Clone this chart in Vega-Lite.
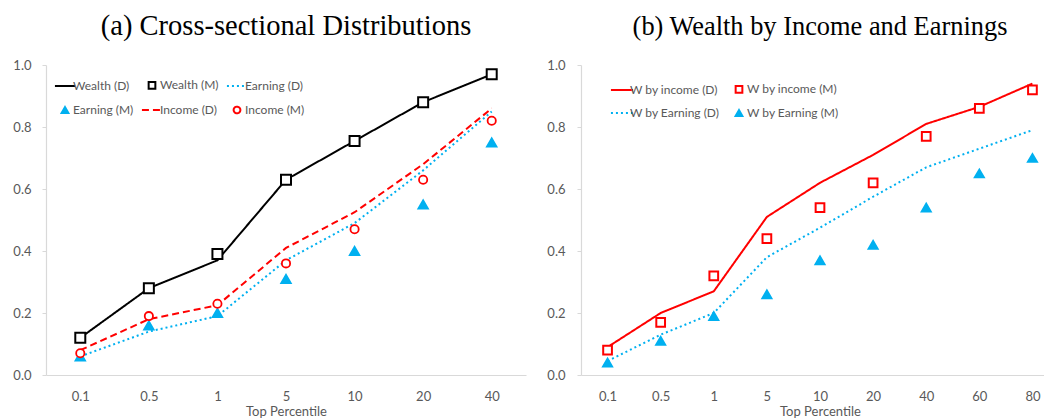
{
  "$schema": "https://vega.github.io/schema/vega-lite/v6.json",
  "padding": {"left": 12, "top": 11, "right": 0, "bottom": 0},
  "config": {
    "view": {"stroke": null},
    "font": "Lato",
    "axis": {"labelFont": "Lato", "labelFontSize": 13, "labelColor": "#595959", "titleFont": "Lato", "titleFontSize": 13, "titleColor": "#595959", "titleFontWeight": "normal", "domainColor": "#d9d9d9", "domainWidth": 1.2, "tickColor": "#d9d9d9", "grid": false},
    "axisX": {"ticks": false, "labelPadding": 15, "titlePadding": 2, "labelAngle": 0},
    "axisY": {"tickSize": 4, "labelPadding": 11},
    "legend": {"labelFont": "Lato", "labelFontSize": 12, "labelColor": "#595959", "symbolStrokeWidth": 2, "symbolSize": 45, "labelOffset": 2, "rowPadding": 9, "columnPadding": 3, "padding": 0},
    "title": {"font": "Liberation Serif", "fontSize": 28.5, "fontWeight": "normal", "color": "#000000", "offset": 19},
    "concat": {"spacing": 20}
  },
  "datasets": {
    "aLines": [
      {"series": "Wealth (D)", "pct": "0.1", "value": 0.12},
      {"series": "Wealth (D)", "pct": "0.5", "value": 0.28},
      {"series": "Wealth (D)", "pct": "1", "value": 0.37},
      {"series": "Wealth (D)", "pct": "5", "value": 0.63},
      {"series": "Wealth (D)", "pct": "10", "value": 0.755},
      {"series": "Wealth (D)", "pct": "20", "value": 0.88},
      {"series": "Wealth (D)", "pct": "40", "value": 0.97},
      {"series": "Earning (D)", "pct": "0.1", "value": 0.06},
      {"series": "Earning (D)", "pct": "0.5", "value": 0.14},
      {"series": "Earning (D)", "pct": "1", "value": 0.19},
      {"series": "Earning (D)", "pct": "5", "value": 0.37},
      {"series": "Earning (D)", "pct": "10", "value": 0.49},
      {"series": "Earning (D)", "pct": "20", "value": 0.66},
      {"series": "Earning (D)", "pct": "40", "value": 0.85},
      {"series": "Income (D)", "pct": "0.1", "value": 0.08},
      {"series": "Income (D)", "pct": "0.5", "value": 0.18},
      {"series": "Income (D)", "pct": "1", "value": 0.225},
      {"series": "Income (D)", "pct": "5", "value": 0.41},
      {"series": "Income (D)", "pct": "10", "value": 0.525},
      {"series": "Income (D)", "pct": "20", "value": 0.68},
      {"series": "Income (D)", "pct": "40", "value": 0.86}
    ],
    "aPoints": [
      {"series": "Wealth (M)", "pct": "0.1", "value": 0.12},
      {"series": "Wealth (M)", "pct": "0.5", "value": 0.28},
      {"series": "Wealth (M)", "pct": "1", "value": 0.39},
      {"series": "Wealth (M)", "pct": "5", "value": 0.63},
      {"series": "Wealth (M)", "pct": "10", "value": 0.755},
      {"series": "Wealth (M)", "pct": "20", "value": 0.88},
      {"series": "Wealth (M)", "pct": "40", "value": 0.97},
      {"series": "Earning (M)", "pct": "0.1", "value": 0.06},
      {"series": "Earning (M)", "pct": "0.5", "value": 0.16},
      {"series": "Earning (M)", "pct": "1", "value": 0.2},
      {"series": "Earning (M)", "pct": "5", "value": 0.31},
      {"series": "Earning (M)", "pct": "10", "value": 0.4},
      {"series": "Earning (M)", "pct": "20", "value": 0.55},
      {"series": "Earning (M)", "pct": "40", "value": 0.75},
      {"series": "Income (M)", "pct": "0.1", "value": 0.07},
      {"series": "Income (M)", "pct": "0.5", "value": 0.19},
      {"series": "Income (M)", "pct": "1", "value": 0.23},
      {"series": "Income (M)", "pct": "5", "value": 0.36},
      {"series": "Income (M)", "pct": "10", "value": 0.47},
      {"series": "Income (M)", "pct": "20", "value": 0.63},
      {"series": "Income (M)", "pct": "40", "value": 0.82}
    ],
    "bLines": [
      {"series": "W by income (D)", "pct": "0.1", "value": 0.09},
      {"series": "W by income (D)", "pct": "0.5", "value": 0.2},
      {"series": "W by income (D)", "pct": "1", "value": 0.27},
      {"series": "W by income (D)", "pct": "5", "value": 0.51},
      {"series": "W by income (D)", "pct": "10", "value": 0.62},
      {"series": "W by income (D)", "pct": "20", "value": 0.71},
      {"series": "W by income (D)", "pct": "40", "value": 0.81},
      {"series": "W by income (D)", "pct": "60", "value": 0.865},
      {"series": "W by income (D)", "pct": "80", "value": 0.94},
      {"series": "W by Earning (D)", "pct": "0.1", "value": 0.045},
      {"series": "W by Earning (D)", "pct": "0.5", "value": 0.13},
      {"series": "W by Earning (D)", "pct": "1", "value": 0.2},
      {"series": "W by Earning (D)", "pct": "5", "value": 0.38},
      {"series": "W by Earning (D)", "pct": "10", "value": 0.475},
      {"series": "W by Earning (D)", "pct": "20", "value": 0.575},
      {"series": "W by Earning (D)", "pct": "40", "value": 0.67},
      {"series": "W by Earning (D)", "pct": "60", "value": 0.73},
      {"series": "W by Earning (D)", "pct": "80", "value": 0.79}
    ],
    "bPoints": [
      {"series": "W by income (M)", "pct": "0.1", "value": 0.08},
      {"series": "W by income (M)", "pct": "0.5", "value": 0.17},
      {"series": "W by income (M)", "pct": "1", "value": 0.32},
      {"series": "W by income (M)", "pct": "5", "value": 0.44},
      {"series": "W by income (M)", "pct": "10", "value": 0.54},
      {"series": "W by income (M)", "pct": "20", "value": 0.62},
      {"series": "W by income (M)", "pct": "40", "value": 0.77},
      {"series": "W by income (M)", "pct": "60", "value": 0.86},
      {"series": "W by income (M)", "pct": "80", "value": 0.92},
      {"series": "W by Earning (M)", "pct": "0.1", "value": 0.04},
      {"series": "W by Earning (M)", "pct": "0.5", "value": 0.11},
      {"series": "W by Earning (M)", "pct": "1", "value": 0.19},
      {"series": "W by Earning (M)", "pct": "5", "value": 0.26},
      {"series": "W by Earning (M)", "pct": "10", "value": 0.37},
      {"series": "W by Earning (M)", "pct": "20", "value": 0.42},
      {"series": "W by Earning (M)", "pct": "40", "value": 0.54},
      {"series": "W by Earning (M)", "pct": "60", "value": 0.65},
      {"series": "W by Earning (M)", "pct": "80", "value": 0.7}
    ]
  },
  "hconcat": [
    {
      "width": 480,
      "height": 310,
      "title": "(a) Cross-sectional Distributions",
      "encoding": {
        "x": {"field": "pct", "type": "ordinal", "sort": ["0.1", "0.5", "1", "5", "10", "20", "40"], "scale": {"type": "point", "padding": 0.5}, "axis": {"title": "Top Percentile"}},
        "y": {"field": "value", "type": "quantitative", "scale": {"domain": [0, 1], "nice": false}, "axis": {"title": null, "values": [0, 0.2, 0.4, 0.6, 0.8, 1.0], "format": ".1f"}}
      },
      "layer": [
        {
          "data": {"name": "aLines"},
          "mark": {"type": "line", "strokeWidth": 2, "strokeCap": "butt"},
          "encoding": {
            "stroke": {"field": "series", "type": "nominal", "scale": {"type": "ordinal", "domain": ["Wealth (D)", "Earning (M)", "Wealth (M)", "Income (D)", "Earning (D)", "Income (M)"], "range": ["#000000", "#00B0F0", "#000000", "#FF0000", "#00B0F0", "#FF0000"]}, "legend": {"title": null, "orient": "none", "legendX": 13, "legendY": 14, "columns": 3}},
            "strokeDash": {"field": "series", "type": "nominal", "scale": {"type": "ordinal", "domain": ["Wealth (D)", "Earning (M)", "Wealth (M)", "Income (D)", "Earning (D)", "Income (M)"], "range": [[1, 0], [1, 0], [1, 0], [7, 4], [2, 3], [1, 0]]}, "legend": {"title": null, "orient": "none", "legendX": 13, "legendY": 14, "columns": 3}}
          }
        },
        {
          "data": {"name": "aPoints"},
          "transform": [{"filter": {"field": "series", "equal": "Wealth (M)"}}],
          "mark": {"type": "point", "filled": true, "strokeWidth": 2, "opacity": 1, "size": 100},
          "encoding": {
            "stroke": {"field": "series", "type": "nominal", "scale": {"type": "ordinal", "domain": ["Wealth (D)", "Earning (M)", "Wealth (M)", "Income (D)", "Earning (D)", "Income (M)"], "range": ["#000000", "#00B0F0", "#000000", "#FF0000", "#00B0F0", "#FF0000"]}, "legend": {"title": null, "orient": "none", "legendX": 13, "legendY": 14, "columns": 3}},
            "fill": {"field": "series", "type": "nominal", "scale": {"type": "ordinal", "domain": ["Wealth (D)", "Earning (M)", "Wealth (M)", "Income (D)", "Earning (D)", "Income (M)"], "range": ["transparent", "#00B0F0", "#ffffff", "transparent", "transparent", "#ffffff"]}, "legend": {"title": null, "orient": "none", "legendX": 13, "legendY": 14, "columns": 3}},
            "shape": {"field": "series", "type": "nominal", "scale": {"type": "ordinal", "domain": ["Wealth (D)", "Earning (M)", "Wealth (M)", "Income (D)", "Earning (D)", "Income (M)"], "range": ["M-3,0L3,0", "triangle-up", "square", "M-3,0L3,0", "M-3,0L3,0", "circle"]}, "legend": {"title": null, "orient": "none", "legendX": 13, "legendY": 14, "columns": 3}}
          }
        },
        {
          "data": {"name": "aPoints"},
          "transform": [{"filter": {"field": "series", "equal": "Earning (M)"}}],
          "mark": {"type": "point", "filled": true, "strokeWidth": 2, "opacity": 1, "size": 85},
          "encoding": {
            "stroke": {"field": "series", "type": "nominal", "scale": {"type": "ordinal", "domain": ["Wealth (D)", "Earning (M)", "Wealth (M)", "Income (D)", "Earning (D)", "Income (M)"], "range": ["#000000", "#00B0F0", "#000000", "#FF0000", "#00B0F0", "#FF0000"]}, "legend": {"title": null, "orient": "none", "legendX": 13, "legendY": 14, "columns": 3}},
            "fill": {"field": "series", "type": "nominal", "scale": {"type": "ordinal", "domain": ["Wealth (D)", "Earning (M)", "Wealth (M)", "Income (D)", "Earning (D)", "Income (M)"], "range": ["transparent", "#00B0F0", "#ffffff", "transparent", "transparent", "#ffffff"]}, "legend": {"title": null, "orient": "none", "legendX": 13, "legendY": 14, "columns": 3}},
            "shape": {"field": "series", "type": "nominal", "scale": {"type": "ordinal", "domain": ["Wealth (D)", "Earning (M)", "Wealth (M)", "Income (D)", "Earning (D)", "Income (M)"], "range": ["M-3,0L3,0", "triangle-up", "square", "M-3,0L3,0", "M-3,0L3,0", "circle"]}, "legend": {"title": null, "orient": "none", "legendX": 13, "legendY": 14, "columns": 3}}
          }
        },
        {
          "data": {"name": "aPoints"},
          "transform": [{"filter": {"field": "series", "equal": "Income (M)"}}],
          "mark": {"type": "point", "filled": true, "strokeWidth": 1.8, "opacity": 1, "size": 68},
          "encoding": {
            "stroke": {"field": "series", "type": "nominal", "scale": {"type": "ordinal", "domain": ["Wealth (D)", "Earning (M)", "Wealth (M)", "Income (D)", "Earning (D)", "Income (M)"], "range": ["#000000", "#00B0F0", "#000000", "#FF0000", "#00B0F0", "#FF0000"]}, "legend": {"title": null, "orient": "none", "legendX": 13, "legendY": 14, "columns": 3}},
            "fill": {"field": "series", "type": "nominal", "scale": {"type": "ordinal", "domain": ["Wealth (D)", "Earning (M)", "Wealth (M)", "Income (D)", "Earning (D)", "Income (M)"], "range": ["transparent", "#00B0F0", "#ffffff", "transparent", "transparent", "#ffffff"]}, "legend": {"title": null, "orient": "none", "legendX": 13, "legendY": 14, "columns": 3}},
            "shape": {"field": "series", "type": "nominal", "scale": {"type": "ordinal", "domain": ["Wealth (D)", "Earning (M)", "Wealth (M)", "Income (D)", "Earning (D)", "Income (M)"], "range": ["M-3,0L3,0", "triangle-up", "square", "M-3,0L3,0", "M-3,0L3,0", "circle"]}, "legend": {"title": null, "orient": "none", "legendX": 13, "legendY": 14, "columns": 3}}
          }
        }
      ]
    },
    {
      "width": 478,
      "height": 310,
      "title": {"text": "(b) Wealth by Income and Earnings", "fontSize": 26.4},
      "encoding": {
        "x": {"field": "pct", "type": "ordinal", "sort": ["0.1", "0.5", "1", "5", "10", "20", "40", "60", "80"], "scale": {"type": "point", "padding": 0.5}, "axis": {"title": "Top Percentile"}},
        "y": {"field": "value", "type": "quantitative", "scale": {"domain": [0, 1], "nice": false}, "axis": {"title": null, "values": [0, 0.2, 0.4, 0.6, 0.8, 1.0], "format": ".1f", "labelPadding": 12}}
      },
      "layer": [
        {
          "data": {"name": "bLines"},
          "mark": {"type": "line", "strokeWidth": 2, "strokeCap": "butt"},
          "encoding": {
            "stroke": {"field": "series", "type": "nominal", "scale": {"type": "ordinal", "domain": ["W by income (D)", "W by Earning (D)", "W by income (M)", "W by Earning (M)"], "range": ["#FF0000", "#00B0F0", "#FF0000", "#00B0F0"]}, "legend": {"title": null, "orient": "none", "legendX": 35, "legendY": 18, "columns": 2, "columnPadding": 11}},
            "strokeDash": {"field": "series", "type": "nominal", "scale": {"type": "ordinal", "domain": ["W by income (D)", "W by Earning (D)", "W by income (M)", "W by Earning (M)"], "range": [[1, 0], [2, 3], [1, 0], [1, 0]]}, "legend": {"title": null, "orient": "none", "legendX": 35, "legendY": 18, "columns": 2, "columnPadding": 11}}
          }
        },
        {
          "data": {"name": "bPoints"},
          "transform": [{"filter": {"field": "series", "equal": "W by income (M)"}}],
          "mark": {"type": "point", "filled": true, "strokeWidth": 2, "opacity": 1, "size": 76},
          "encoding": {
            "stroke": {"field": "series", "type": "nominal", "scale": {"type": "ordinal", "domain": ["W by income (D)", "W by Earning (D)", "W by income (M)", "W by Earning (M)"], "range": ["#FF0000", "#00B0F0", "#FF0000", "#00B0F0"]}, "legend": {"title": null, "orient": "none", "legendX": 35, "legendY": 18, "columns": 2, "columnPadding": 11}},
            "fill": {"field": "series", "type": "nominal", "scale": {"type": "ordinal", "domain": ["W by income (D)", "W by Earning (D)", "W by income (M)", "W by Earning (M)"], "range": ["transparent", "transparent", "#ffffff", "#00B0F0"]}, "legend": {"title": null, "orient": "none", "legendX": 35, "legendY": 18, "columns": 2, "columnPadding": 11}},
            "shape": {"field": "series", "type": "nominal", "scale": {"type": "ordinal", "domain": ["W by income (D)", "W by Earning (D)", "W by income (M)", "W by Earning (M)"], "range": ["M-3.3,0L3.3,0", "M-3.3,0L3.3,0", "square", "triangle-up"]}, "legend": {"title": null, "orient": "none", "legendX": 35, "legendY": 18, "columns": 2, "columnPadding": 11}}
          }
        },
        {
          "data": {"name": "bPoints"},
          "transform": [{"filter": {"field": "series", "equal": "W by Earning (M)"}}],
          "mark": {"type": "point", "filled": true, "strokeWidth": 2, "opacity": 1, "size": 80},
          "encoding": {
            "stroke": {"field": "series", "type": "nominal", "scale": {"type": "ordinal", "domain": ["W by income (D)", "W by Earning (D)", "W by income (M)", "W by Earning (M)"], "range": ["#FF0000", "#00B0F0", "#FF0000", "#00B0F0"]}, "legend": {"title": null, "orient": "none", "legendX": 35, "legendY": 18, "columns": 2, "columnPadding": 11}},
            "fill": {"field": "series", "type": "nominal", "scale": {"type": "ordinal", "domain": ["W by income (D)", "W by Earning (D)", "W by income (M)", "W by Earning (M)"], "range": ["transparent", "transparent", "#ffffff", "#00B0F0"]}, "legend": {"title": null, "orient": "none", "legendX": 35, "legendY": 18, "columns": 2, "columnPadding": 11}},
            "shape": {"field": "series", "type": "nominal", "scale": {"type": "ordinal", "domain": ["W by income (D)", "W by Earning (D)", "W by income (M)", "W by Earning (M)"], "range": ["M-3.3,0L3.3,0", "M-3.3,0L3.3,0", "square", "triangle-up"]}, "legend": {"title": null, "orient": "none", "legendX": 35, "legendY": 18, "columns": 2, "columnPadding": 11}}
          }
        }
      ]
    }
  ],
  "resolve": {
    "scale": {"x": "independent", "y": "independent", "stroke": "independent", "strokeDash": "independent", "fill": "independent", "shape": "independent"},
    "legend": {"stroke": "independent", "strokeDash": "independent", "fill": "independent", "shape": "independent"}
  }
}
